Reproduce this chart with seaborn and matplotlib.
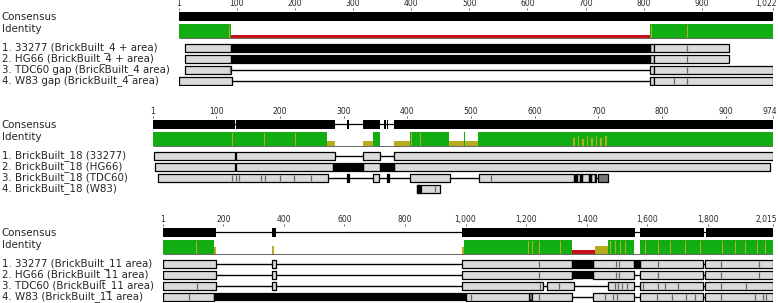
import matplotlib
matplotlib.use("Agg")
import matplotlib.pyplot as plt
import matplotlib.transforms as mtransforms
import seaborn as sns

# ---------------- panel 1 : BrickBuilt_4 ----------------
p1_length = 1022
p1_ticks = [1, 100, 200, 300, 400, 500, 600, 700, 800, 900, 1022]
p1_names = ["1. 33277 (BrickBuilt_4 + area)", "2. HG66 (BrickBuilt_4 + area)",
            "3. TDC60 gap (BrickBuilt_4 area)", "4. W83 gap (BrickBuilt_4 area)"]
p1_consensus = [(1, 1022)]
# (start, end, identity fraction)
p1_identity = [(1, 90, 1.0), (87, 89, 0.9), (90, 810, 0.2), (810, 1022, 1.0),
               (812, 814, 0.9), (851, 852, 0.95), (875, 876, 0.95)]
p1_gray = [[(11, 90), (810, 818), (818, 947)],
           [(11, 90), (810, 818), (818, 947)],
           [(11, 90), (810, 818), (818, 1022)],
           [(1, 92), (810, 818), (818, 1022)]]
p1_black = [[(90, 810)], [(90, 810)], [], []]
p1_dark = [[], [], [], []]
p1_marks = [[875], [875], [88, 875], [851, 875]]

# ---------------- panel 2 : BrickBuilt_18 ----------------
p2_length = 974
p2_ticks = [1, 100, 200, 300, 400, 500, 600, 700, 800, 900, 974]
p2_names = ["1. BrickBuilt_18 (33277)", "2. BrickBuilt_18 (HG66)",
            "3. BrickBuilt_18 (TDC60)", "4. BrickBuilt_18 (W83)"]
p2_consensus = [(1, 130), (132, 286), (306, 309), (330, 358), (364, 366),
                (368, 370), (379, 974)]
p2_identity = [(1, 274, 1.0), (125, 126, 0.9), (131, 132, 0.9), (134, 135, 0.9),
               (175, 176, 0.9), (200, 201, 0.9), (224, 225, 0.9), (250, 251, 0.9),
               (274, 287, 0.35), (330, 346, 0.35), (346, 357, 1.0),
               (379, 404, 0.35), (404, 466, 1.0), (406, 408, 0.9), (415, 416, 0.9),
               (420, 421, 0.9), (443, 444, 0.9), (466, 511, 0.35), (489, 490, 1.0),
               (511, 974, 1.0), (517, 518, 0.9), (531, 532, 0.9),
               (660, 664, 0.6), (668, 670, 0.75), (674, 678, 0.5), (682, 684, 0.7),
               (688, 692, 0.55), (696, 698, 0.7), (702, 706, 0.6), (710, 713, 0.7)]
p2_gray = [[(2, 130), (132, 286), (330, 358), (379, 974)],
           [(4, 130), (132, 284), (330, 357), (379, 970)],
           [(9, 275), (346, 356), (404, 467), (512, 662), (667, 671), (674, 685),
            (688, 694)],
           [(415, 451)]]
p2_black = [[], [(284, 330), (357, 379)],
            [(306, 309), (369, 371), (662, 667), (671, 674), (685, 688), (694, 697)],
            [(415, 421)]]
p2_dark = [[], [], [(700, 715)], []]
p2_marks = [[], [], [125, 131, 136, 170, 177, 200, 222, 249, 531], [444]]

# ---------------- panel 3 : BrickBuilt_11 ----------------
p3_length = 2015
p3_ticks = [1, 200, 400, 600, 800, 1000, 1200, 1400, 1600, 1800, 2015]
p3_names = ["1. 33277 (BrickBuilt_11 area)", "2. HG66 (BrickBuilt_11 area)",
            "3. TDC60 (BrickBuilt_11 area)", "4. W83 (BrickBuilt_11 area)"]
p3_consensus = [(1, 176), (361, 374), (988, 1559), (1576, 1787), (1794, 2015)]
p3_identity = [(1, 169, 1.0), (93, 95, 0.9), (110, 112, 0.9), (169, 176, 0.5),
               (361, 368, 0.6), (988, 994, 0.5), (994, 1352, 1.0),
               (1206, 1209, 0.9), (1219, 1222, 0.9), (1242, 1245, 0.9), (1312, 1315, 0.9),
               (1352, 1427, 0.28), (1427, 1470, 0.6), (1470, 1555, 1.0),
               (1477, 1480, 0.9), (1493, 1496, 0.9), (1510, 1513, 0.9), (1526, 1529, 0.9),
               (1576, 2015, 1.0), (1592, 1596, 0.9), (1635, 1639, 0.9), (1675, 1679, 0.9),
               (1724, 1728, 0.9), (1774, 1778, 0.9), (1846, 1850, 0.9), (1889, 1893, 0.9),
               (1922, 1926, 0.9), (1962, 1966, 0.9), (1988, 1992, 0.9)]
p3_gray = [[(1, 176), (361, 374), (988, 1352), (1422, 1555), (1576, 1783), (1792, 2015)],
           [(1, 176), (361, 374), (988, 1352), (1422, 1555), (1576, 1783), (1792, 2015)],
           [(1, 176), (361, 374), (988, 1256), (1269, 1357), (1470, 1555), (1576, 1783),
            (1792, 2015)],
           [(1, 169), (1000, 1352), (1422, 1555), (1576, 1783), (1792, 2015)]]
p3_black = [[(1352, 1422), (1555, 1576)], [(1352, 1422)], [], [(169, 1000)]]
p3_dark = [[], [], [], [(1208, 1218)]]
p3_marks = [[1242, 1497, 1506, 1636, 1844, 1970],
            [1242, 1497, 1506, 1636, 1844, 1970],
            [112, 1246, 1307, 1494, 1503, 1517, 1533, 1585, 1636, 1659, 1702, 1844, 1926],
            [87, 1017, 1242, 1460, 1487, 1500, 1632, 1682, 1728, 1757, 1842, 1957, 1983,
             1993]]

GREEN = "#12ad12"
OLIVE = "#b5ad1e"
RED = "#c8101a"
BOX = "#dadada"

sns.set_theme(style="white")
plt.rcParams["font.family"] = ["DejaVu Sans"]

W, H = 778, 303
fig = plt.figure(figsize=(W / 100, H / 100), dpi=100)


def ident_color(v):
    if v >= 0.99:
        return GREEN
    if v >= 0.3:
        return OLIVE
    return RED


def draw_panel(left, right, top, length, ticks, names, consensus, identity,
               gray, black, dark, marks):
    ax = fig.add_axes([left / W, 1 - (top + 74) / H, (right - left) / W, 76 / H])
    ax.set_xlim(1, length)
    ax.set_ylim(74, -2)
    sns.despine(ax=ax, left=True, bottom=True, top=True, right=True)
    ax.set_yticks([])
    ax.xaxis.tick_top()
    ax.set_xticks(ticks)
    labels = ax.set_xticklabels([f"{t:,}" for t in ticks])
    ax.tick_params(axis="x", top=True, bottom=False, length=1.5, width=0.6,
                   pad=0.2, labelsize=5.5, color="#444444")
    # last tick label pulled inside the right edge, as in the original
    labels[-1].set_ha("right")
    labels[-1].set_transform(labels[-1].get_transform() +
                             mtransforms.ScaledTranslation(0.04, 0, fig.dpi_scale_trans))
    ax.grid(False)

    # consensus
    ax.hlines(4.25, 1, length, color="black", lw=0.9)
    ax.broken_barh([(s, e - s) for s, e in consensus], (0, 8.5),
                   facecolors="black", edgecolor="none")

    # identity track
    base, full = 26, 14
    ax.hlines(base - 0.4, 1, length, color="#666666", lw=0.7)
    for s, e, v in identity:
        ax.broken_barh([(s, e - s)], (base - v * full, v * full),
                       facecolors=ident_color(v), edgecolor="none")

    # sequences
    for i in range(4):
        y = 32 + 11 * i
        h = 7.5
        spans = gray[i] + black[i] + dark[i]
        if spans:
            ax.hlines(y + h / 2, min(s for s, _ in spans), max(e for _, e in spans),
                      color="black", lw=1.0, zorder=1)
        ax.broken_barh([(s, e - s) for s, e in gray[i]], (y, h), facecolors=BOX,
                       edgecolor="black", lw=0.9, zorder=2)
        if dark[i]:
            ax.broken_barh([(s, e - s) for s, e in dark[i]], (y, h), facecolors="#777777",
                           edgecolor="black", lw=0.9, zorder=3)
        if black[i]:
            ax.broken_barh([(s, e - s) for s, e in black[i]], (y, h), facecolors="black",
                           edgecolor="black", lw=0.9, zorder=3)
        if marks[i]:
            ax.vlines(marks[i], y + 0.8, y + h - 0.8, color="#666666", lw=0.9, zorder=4)

    # left labels
    tr = mtransforms.blended_transform_factory(fig.transFigure, ax.transData)
    ax.text(0.002, 5, "Consensus", transform=tr, va="center", ha="left", fontsize=7.4)
    ax.text(0.002, 17, "Identity", transform=tr, va="center", ha="left", fontsize=7.4)
    for i, name in enumerate(names):
        ax.text(0.002, 32 + 11 * i + 3.9, name, transform=tr, va="center", ha="left",
                fontsize=7.4)
    return ax


draw_panel(179, 773, 12, p1_length, p1_ticks, p1_names, p1_consensus, p1_identity,
           p1_gray, p1_black, p1_dark, p1_marks)
draw_panel(153, 773, 120, p2_length, p2_ticks, p2_names, p2_consensus, p2_identity,
           p2_gray, p2_black, p2_dark, p2_marks)
draw_panel(163, 773, 228, p3_length, p3_ticks, p3_names, p3_consensus, p3_identity,
           p3_gray, p3_black, p3_dark, p3_marks)

fig.savefig("out.png", dpi=100, facecolor="white")
